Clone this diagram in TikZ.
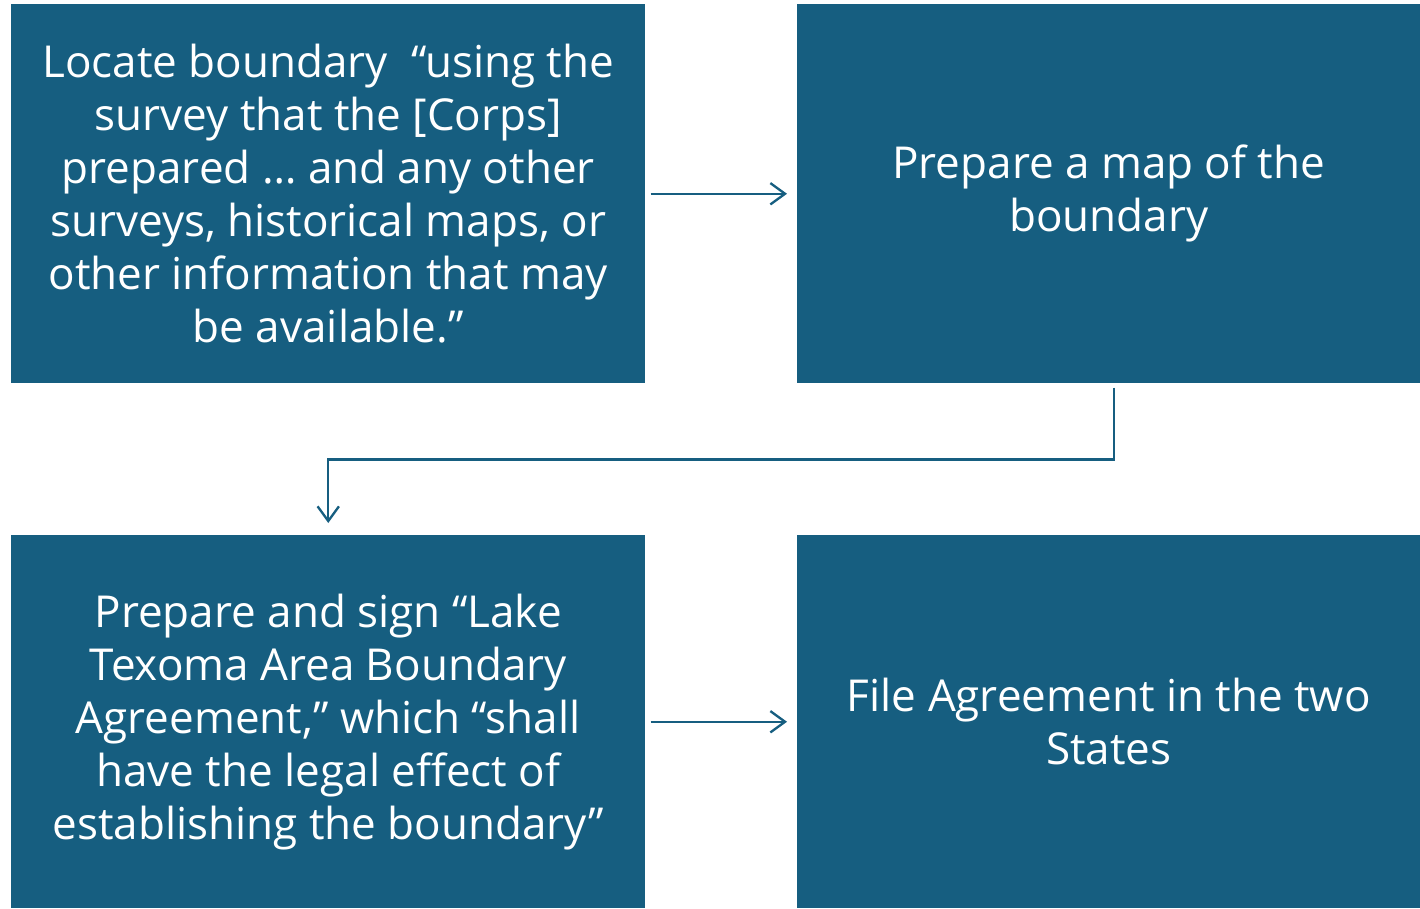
\documentclass[tikz,border=0pt]{standalone}
\usepackage{fontspec}
\setmainfont{Open Sans}
\usetikzlibrary{arrows.meta}
\usetikzlibrary{positioning}
\definecolor{boxblue}{RGB}{22,94,128}
\tikzset{box/.style = {fill=boxblue, text=white, anchor=north west, inner sep=0,
                       align=center, font=\fontsize{33}{39.75}\selectfont}}
\tikzset{arr/.style = {draw=boxblue, line width=1.75pt,
                       -{Straight Barb[length=11pt, width=16pt, line width=1.75pt]}}}

\begin{document}
\begin{tikzpicture}[x=0.75pt, y=-0.75pt]
    \useasboundingbox (0,0) rectangle (1420,909);
    \node [box, minimum width=475.5pt, minimum height=284.25pt] (locate) at (11, 4)
      {Locate boundary ~``using the\\survey that the [Corps]\\prepared \dots\ and any other\\surveys, historical maps, or\\other information that may\\be available.''};
    \node [box, minimum width=467.25pt, minimum height=284.25pt] (map) at (797, 4)
      {Prepare a map of the\\boundary};
    \node [box, minimum width=475.5pt, minimum height=279.75pt] (sign) at (11, 535)
      {Prepare and sign ``Lake\\Texoma Area Boundary\\Agreement,'' which ``shall\\have the legal effect of\\establishing the boundary''};
    \node [box, minimum width=467.25pt, minimum height=279.75pt] (file) at (797, 535)
      {File Agreement in the two\\States};
    \draw [arr, shorten <=3.75pt, shorten >=7.5pt] (locate) -- (map);
    \draw [arr, shorten <=3.75pt, shorten >=7.5pt] (sign) -- (file);
    \draw [arr, shorten <=3pt, shorten >=9pt] ([xshift=3.75pt]map.south) -- ++(0,76) -| (sign.north);
  \end{tikzpicture}
\end{document}
